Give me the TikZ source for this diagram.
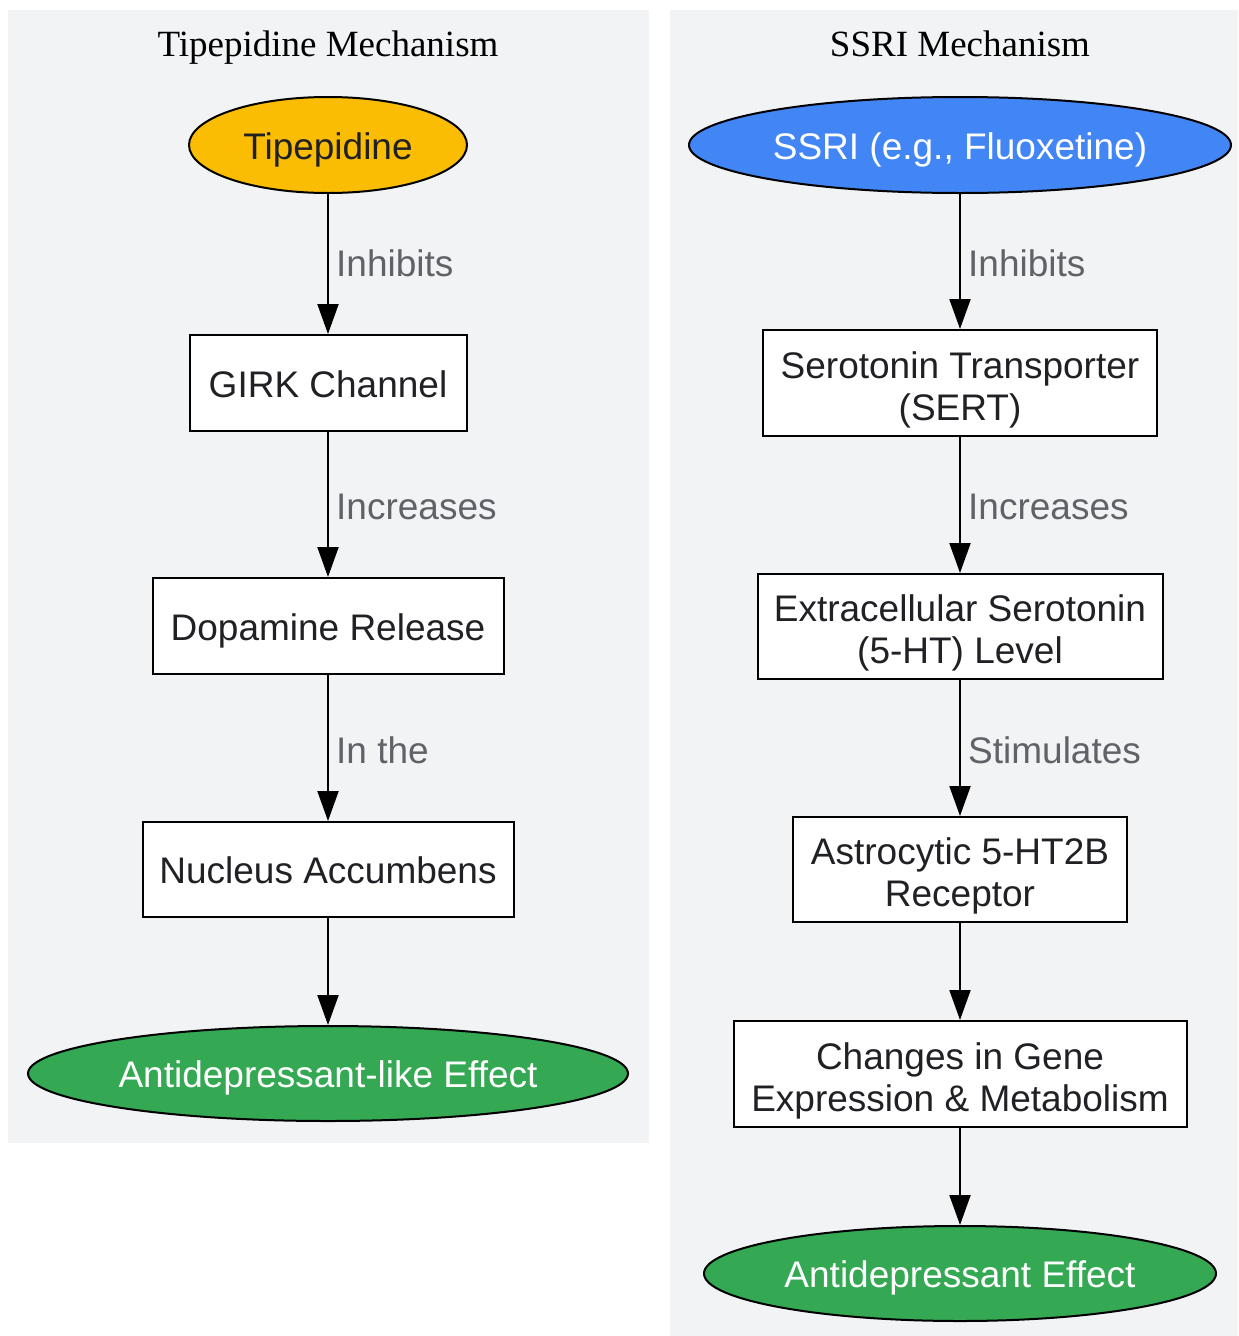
\documentclass[tikz,border=0pt]{standalone}
\usepackage{fontspec}
\setmainfont{Liberation Serif}
\newfontfamily\arialf{Liberation Sans}
\usetikzlibrary{arrows.meta,shapes.geometric}
\definecolor{clbg}{HTML}{F1F3F4}
\definecolor{txt}{HTML}{202124}
\definecolor{lbl}{HTML}{5F6368}
\definecolor{cyel}{HTML}{FBBC04}
\definecolor{cblue}{HTML}{4285F4}
\definecolor{cgreen}{HTML}{34A853}
\newcommand{\topstrut}{\rule{0pt}{40pt}}
\newcommand{\botstrut}{\rule[-8pt]{0pt}{8pt}}
\tikzset{
  every node/.style={font=\arialf\fontsize{37}{42}\selectfont, text=txt},
  one/.style={text height=31pt, text depth=3pt},
  boxn/.style={draw=black, line width=2pt, fill=white, inner sep=0pt, align=center},
  elln/.style={draw=black, line width=2pt, ellipse, inner sep=0pt, one},
  titlen/.style={font=\rmfamily\fontsize{37}{42}\selectfont, text=black, anchor=base},
  elab/.style={anchor=west, text=lbl, inner sep=0pt},
  conn/.style={line width=2pt, -{Triangle[length=30pt,width=21pt]}},
}
\begin{document}
\begin{tikzpicture}[x=1pt,y=-1pt]
\useasboundingbox (0,0) rectangle (1239,1336);
\fill[clbg] (8,10) rectangle (649,1143);
\fill[clbg] (670,10) rectangle (1238,1336);
\node[titlen] (t1) at (328,56) {Tipepidine Mechanism};
\node[titlen] (t2) at (960,56) {SSRI Mechanism};
% left
\node[elln, fill=cyel, minimum width=278pt, minimum height=96pt] (tip) at (328,145) {Tipepidine};
\node[boxn, one, minimum width=277pt, minimum height=96pt] (girk) at (328,383) {GIRK Channel};
\node[boxn, one, minimum width=351pt, minimum height=96pt] (dop) at (328,626) {Dopamine Release};
\node[boxn, one, minimum width=371pt, minimum height=95pt] (nac) at (328,869.5) {Nucleus Accumbens};
\node[elln, fill=cgreen, text=white, minimum width=600pt, minimum height=95pt] (eff1) at (328,1073.5) {Antidepressant-like Effect};
\draw[conn] (tip.south) -- (girk.north);
\draw[conn] (girk.south) -- (dop.north);
\draw[conn] (dop.south) -- (nac.north);
\draw[conn] (nac.south) -- (eff1.north);
\node[elab] (l1) at (336,263) {Inhibits};
\node[elab] (l2) at (336,507) {Increases};
\node[elab] (l3) at (336,750) {In the};
% right
\node[elln, fill=cblue, text=white, minimum width=542pt, minimum height=96pt] (ssri) at (960,145) {SSRI (e.g., Fluoxetine)};
\node[boxn, minimum width=394pt, minimum height=106pt] (sert) at (960,383) {\topstrut Serotonin Transporter\\(SERT)\botstrut};
\node[boxn, minimum width=405pt, minimum height=105pt] (ext) at (960,626.5) {\topstrut Extracellular Serotonin\\(5-HT) Level\botstrut};
\node[boxn, minimum width=334pt, minimum height=105pt] (ast) at (960,869.5) {\topstrut Astrocytic 5-HT2B\\Receptor\botstrut};
\node[boxn, minimum width=453pt, minimum height=106pt] (gene) at (960,1074) {\topstrut Changes in Gene\\Expression \& Metabolism\botstrut};
\node[elln, fill=cgreen, text=white, minimum width=512pt, minimum height=95pt] (eff2) at (960,1273.5) {Antidepressant Effect};
\draw[conn] (ssri.south) -- (sert.north);
\draw[conn] (sert.south) -- (ext.north);
\draw[conn] (ext.south) -- (ast.north);
\draw[conn] (ast.south) -- (gene.north);
\draw[conn] (gene.south) -- (eff2.north);
\node[elab] (r1) at (968,263) {Inhibits};
\node[elab] (r2) at (968,507) {Increases};
\node[elab] (r3) at (968,750) {Stimulates};
\end{tikzpicture}
\end{document}
